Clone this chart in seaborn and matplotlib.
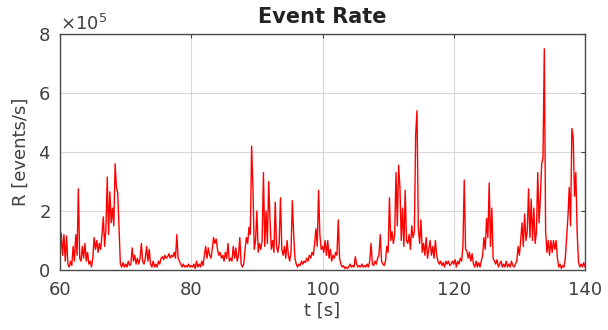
import numpy as np
import pandas as pd
import matplotlib
matplotlib.use("Agg")
import matplotlib.pyplot as plt
import seaborn as sns

# sample times: 60 s to 140 s, 0.2 s step
t_start, t_stop, t_step = 60.0, 140.0, 0.2

# event rate in units of 1e5 events/s, one row per 4 s
rate_e5 = [
    0.4, 1.25, 0.5, 1.2, 0.3, 1.15, 0.2, 0.1, 0.3, 0.15, 0.8, 0.3, 1.2, 0.5, 2.75, 0.4, 0.3, 0.8, 0.4, 0.9,
    0.3, 0.6, 0.2, 0.3, 0.1, 0.4, 1.1, 0.7, 1.0, 0.6, 0.9, 0.7, 1.2, 1.8, 0.8, 1.4, 3.15, 1.2, 2.65, 1.6,
    2.1, 1.5, 3.6, 2.8, 2.6, 1.4, 0.2, 0.1, 0.25, 0.1, 0.2, 0.1, 0.3, 0.15, 0.2, 0.75, 0.3, 0.5, 0.2, 0.4,
    0.2, 0.4, 0.9, 0.3, 0.2, 0.4, 0.8, 0.3, 0.7, 0.2, 0.1, 0.3, 0.1, 0.2, 0.1, 0.3, 0.2, 0.4, 0.45, 0.35,
    0.5, 0.4, 0.45, 0.55, 0.4, 0.5, 0.45, 0.6, 0.4, 1.2, 0.4, 0.3, 0.2, 0.1, 0.2, 0.1, 0.15, 0.1, 0.2, 0.1,
    0.15, 0.1, 0.2, 0.05, 0.3, 0.1, 0.2, 0.1, 0.3, 0.15, 0.5, 0.8, 0.4, 0.75, 0.5, 0.4, 0.7, 1.1, 0.9, 1.05,
    0.7, 0.5, 0.6, 0.4, 0.5, 0.3, 0.6, 0.4, 0.9, 0.3, 0.4, 0.3, 0.8, 0.4, 0.75, 0.3, 0.5, 1.1, 0.2, 0.1,
    0.2, 0.7, 1.1, 0.9, 1.45, 1.2, 4.2, 2.8, 0.7, 1.0, 2.0, 0.6, 0.9, 0.7, 1.0, 3.3, 0.8, 2.0, 0.9, 3.0,
    1.7, 0.7, 1.0, 0.6, 2.3, 0.8, 0.6, 0.9, 2.45, 0.7, 0.5, 0.8, 0.4, 1.0, 0.5, 0.3, 0.6, 2.35, 1.25, 0.4,
    0.2, 0.1, 0.2, 0.15, 0.3, 0.2, 0.3, 0.25, 0.4, 0.3, 0.5, 0.4, 0.6, 0.5, 0.9, 1.4, 0.8, 2.7, 1.2, 0.7,
    0.8, 0.6, 1.0, 0.5, 1.0, 0.4, 0.7, 0.3, 0.5, 0.4, 0.6, 0.5, 1.7, 0.4, 0.2, 0.1, 0.15, 0.05, 0.1, 0.05,
    0.1, 0.2, 0.1, 0.15, 0.1, 0.45, 0.2, 0.1, 0.15, 0.1, 0.2, 0.1, 0.15, 0.1, 0.2, 0.1, 0.3, 0.9, 0.2, 0.15,
    0.3, 0.2, 0.4, 0.5, 1.2, 0.3, 0.2, 0.15, 0.3, 0.8, 0.6, 2.45, 1.0, 1.3, 0.9, 1.2, 3.3, 1.5, 3.55, 2.8,
    1.0, 2.1, 0.8, 2.7, 1.0, 0.9, 1.2, 0.7, 1.5, 1.1, 1.3, 4.6, 5.4, 1.4, 0.9, 1.7, 0.6, 0.9, 0.5, 1.1,
    0.4, 0.7, 1.0, 0.5, 0.8, 0.4, 1.0, 0.5, 0.3, 0.2, 0.3, 0.15, 0.25, 0.1, 0.3, 0.2, 0.3, 0.15, 0.2, 0.3,
    0.2, 0.35, 0.1, 0.3, 0.2, 0.4, 0.3, 0.8, 3.05, 0.7, 0.65, 0.4, 0.6, 0.3, 0.55, 0.2, 0.1, 0.3, 0.1, 0.25,
    0.1, 0.3, 0.5, 1.1, 0.7, 1.75, 1.1, 2.95, 0.8, 2.1, 0.4, 0.3, 0.2, 0.35, 0.1, 0.2, 0.3, 0.1, 0.2, 0.1,
    0.3, 0.1, 0.2, 0.1, 0.3, 0.15, 0.1, 0.2, 0.3, 0.8, 0.5, 1.0, 1.6, 0.8, 1.9, 1.0, 1.3, 2.75, 1.1, 2.4,
    1.0, 2.1, 0.9, 1.3, 3.3, 1.6, 2.45, 3.6, 3.8, 7.5, 1.3, 0.6, 1.0, 0.5, 1.0, 0.6, 1.0, 0.7, 1.0, 0.4,
    0.1, 0.2, 0.05, 0.15, 0.1, 0.4, 1.1, 1.8, 2.8, 1.5, 4.8, 4.5, 2.5, 3.3, 1.3, 0.3, 0.1, 0.2, 0.1, 0.25,
    0.1,
]

x_ticks = [60, 80, 100, 120, 140]
y_ticks = [0, 2e5, 4e5, 6e5, 8e5]

t = np.round(t_start + t_step * np.arange(len(rate_e5)), 2)
df = pd.DataFrame({"t": t, "R": np.array(rate_e5) * 1e5})

sns.set_style("white")
plt.rcParams["font.family"] = ["DejaVu Sans"]

fig = plt.figure(figsize=(6.08, 3.30), dpi=100)
ax = fig.add_axes([60 / 608, 1 - 270 / 330, 525 / 608, 236 / 330])

sns.lineplot(data=df, x="t", y="R", color="#ff0000", linewidth=1.0, ax=ax)

tc = "#404040"
ax.set_xlim(60, 140)
ax.set_ylim(0, 8e5)
ax.set_xticks(x_ticks)
ax.set_yticks(y_ticks)
ax.ticklabel_format(axis="y", style="sci", scilimits=(0, 0), useMathText=True)
ax.yaxis.get_offset_text().set_fontsize(13)
ax.yaxis.get_offset_text().set_color(tc)

ax.grid(True, color="#d8d8d8", linewidth=0.8)
ax.set_axisbelow(True)
for s in ax.spines.values():
    s.set_color("#4a4a4a")
    s.set_linewidth(1.0)
ax.tick_params(direction="in", length=3, width=0.8, colors=tc, labelsize=13,
               top=True, right=True)
ax.tick_params(axis="x", pad=8)
ax.tick_params(axis="y", pad=7)

ax.set_xlabel("t [s]", fontsize=13, color=tc, labelpad=2)
ax.set_ylabel("R [events/s]", fontsize=13, color=tc, labelpad=6)
ax.set_title("Event Rate", fontsize=15, fontweight="bold", color="#222222", pad=8)

fig.savefig("out.png", dpi=100)
